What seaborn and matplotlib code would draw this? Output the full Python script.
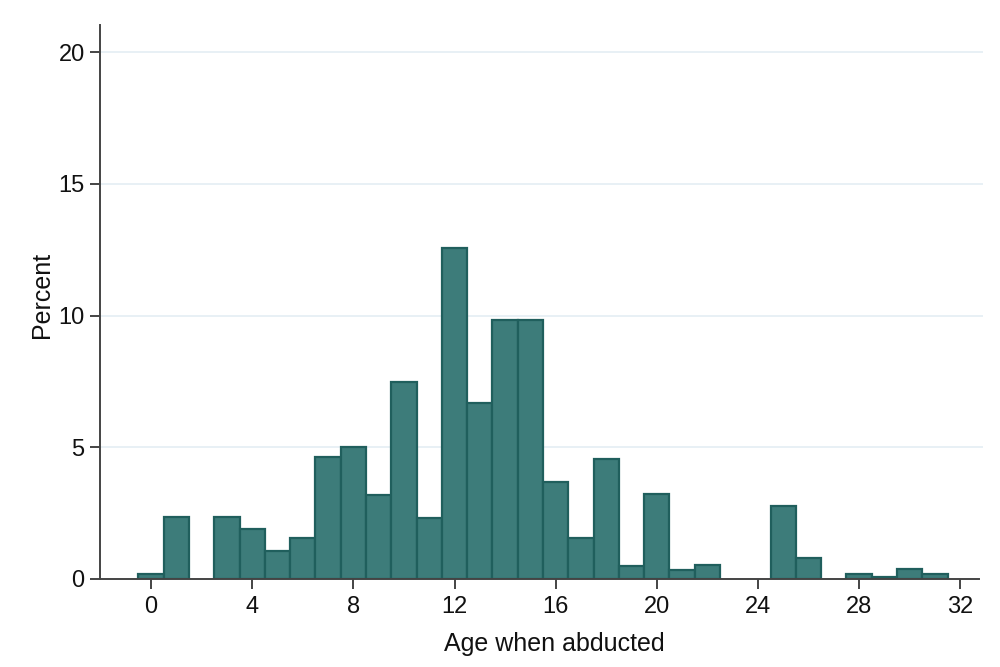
import matplotlib
matplotlib.use("Agg")
import matplotlib.pyplot as plt
import seaborn as sns
import pandas as pd

ages = list(range(0, 32))
percent = [0.20, 2.36, 0.0, 2.36, 1.90, 1.06, 1.55, 4.62, 5.02, 3.20,
           7.48, 2.33, 12.55, 6.68, 9.85, 9.85, 3.70, 1.55, 4.55, 0.51,
           3.24, 0.34, 0.54, 0.0, 0.0, 2.78, 0.80, 0.0, 0.20, 0.09,
           0.38, 0.19]
x_ticks = [0, 4, 8, 12, 16, 20, 24, 28, 32]
y_ticks = [0, 5, 10, 15, 20]

df = pd.DataFrame({"age": ages, "pct": percent})

sns.set_theme(style="white")
plt.rcParams["font.family"] = ["Liberation Sans", "DejaVu Sans"]

fig = plt.figure(figsize=(10, 6.67), dpi=100)
ax = fig.add_axes([0.100, 0.132, 0.883, 0.831])

sns.histplot(data=df, x="age", weights="pct", discrete=True, stat="count",
             color="#3d7c7a", edgecolor="#205f5d", linewidth=1.6, alpha=1.0,
             ax=ax, zorder=3)
for p in ax.patches:
    if p.get_height() <= 0:
        p.set_visible(False)

ax.set_xlim(-2.02, 32.9)
ax.set_ylim(0, 21.05)
ax.set_xticks(x_ticks)
ax.set_yticks(y_ticks)
ax.set_yticklabels([str(v) for v in y_ticks])
ax.set_xticklabels([str(v) for v in x_ticks])

for y in y_ticks[1:]:
    ax.axhline(y, color="#e6eff5", linewidth=1.3, zorder=1)

for s in ["top", "right"]:
    ax.spines[s].set_visible(False)
for s in ["left", "bottom"]:
    ax.spines[s].set_color("#444444")
    ax.spines[s].set_linewidth(1.4)
    ax.spines[s].set_zorder(4)
ax.spines["bottom"].set_bounds(-2.02, 32.75)

ax.tick_params(axis="both", which="major", length=7, width=1.4,
               color="#444444", labelsize=17, labelcolor="#111111",
               direction="out", bottom=True, left=True)
ax.tick_params(axis="x", pad=5)
ax.tick_params(axis="y", pad=4)

ax.set_xlabel("Age when abducted", fontsize=18, color="#111111", labelpad=10)
ax.set_ylabel("Percent", fontsize=18, color="#111111", labelpad=3)
ax.xaxis.label.set_x(0.514)
ax.yaxis.label.set_y(0.513)
ax.grid(False)

fig.savefig("out.png", dpi=100, facecolor="white")
